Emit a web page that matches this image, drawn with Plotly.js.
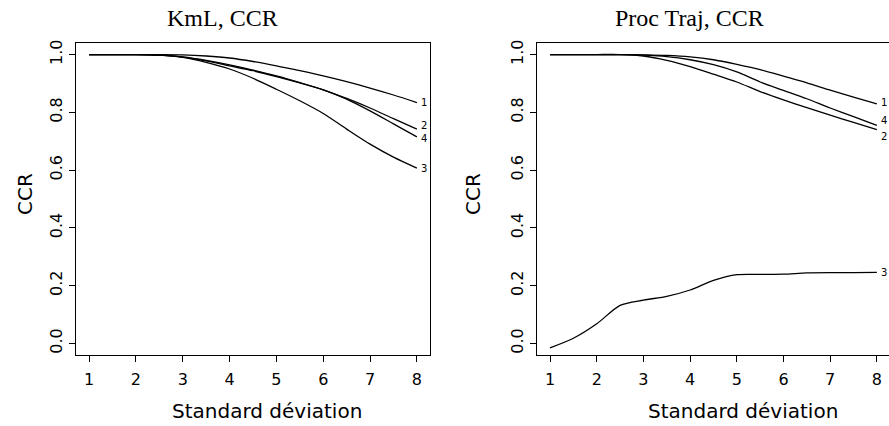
<!DOCTYPE html>
<html>
<head>
<meta charset="utf-8">
<script src="https://cdn.plot.ly/plotly-3.0.1.min.js"></script>
<style>
html,body{margin:0;padding:0;background:#fff;}
#chart{width:889px;height:426px;}
</style>
</head>
<body>
<div id="chart"></div>
<script>
// Standard deviation values (x axis)
const sd = [1, 1.5, 2, 2.5, 3, 3.5, 4, 4.5, 5, 5.5, 6, 6.5, 7, 7.5, 8];
const xTicks = [1, 2, 3, 4, 5, 6, 7, 8];
const yTicks = [0, 0.2, 0.4, 0.6, 0.8, 1.0];
const yTickText = ["0.0", "0.2", "0.4", "0.6", "0.8", "1.0"];

// KmL, CCR
const kml1 = [1, 1, 1, 1, 0.999, 0.995, 0.988, 0.976, 0.961, 0.944, 0.926, 0.906, 0.884, 0.860, 0.834];
const kml2 = [1, 1, 1, 0.998, 0.991, 0.978, 0.961, 0.944, 0.924, 0.902, 0.878, 0.848, 0.815, 0.778, 0.742];
const kml4 = [1, 1, 1, 0.998, 0.992, 0.980, 0.964, 0.946, 0.926, 0.903, 0.878, 0.846, 0.805, 0.760, 0.715];
const kml3 = [1, 1, 1, 0.998, 0.990, 0.973, 0.950, 0.918, 0.880, 0.840, 0.796, 0.742, 0.690, 0.645, 0.607];

// Proc Traj, CCR
const pt1 = [1, 1, 1, 1, 0.999, 0.997, 0.992, 0.982, 0.966, 0.948, 0.925, 0.902, 0.877, 0.853, 0.829];
const pt4 = [1, 1, 1, 1, 0.998, 0.993, 0.982, 0.965, 0.940, 0.905, 0.876, 0.847, 0.815, 0.785, 0.755];
const pt2 = [1, 1, 1, 1, 0.995, 0.980, 0.958, 0.932, 0.905, 0.872, 0.843, 0.816, 0.790, 0.765, 0.740];
const pt3 = [-0.015, 0.018, 0.068, 0.132, 0.150, 0.163, 0.185, 0.218, 0.238, 0.239, 0.240, 0.244, 0.245, 0.245, 0.246];

const curveLabels = ["1", "2", "3", "4"];

const lineStyle = {color: "#000", width: 1.3, shape: "spline", smoothing: 0.8};
function tr(y, xa, ya, name) {
  return {x: sd, y: y, xaxis: xa, yaxis: ya, mode: "lines", name: name,
          line: lineStyle, hoverinfo: "skip", showlegend: false};
}

const data = [
  tr(kml1, "x", "y", "1"), tr(kml2, "x", "y", "2"), tr(kml3, "x", "y", "3"), tr(kml4, "x", "y", "4"),
  tr(pt1, "x2", "y2", "1"), tr(pt2, "x2", "y2", "2"), tr(pt3, "x2", "y2", "3"), tr(pt4, "x2", "y2", "4")
];

const sans = "DejaVu Sans";
const tickFont = {family: sans, size: 16, color: "#000"};

function xAxis(domain, range, anchor) {
  return {domain: domain, range: range, anchor: anchor, tickmode: "array", tickvals: xTicks,
          ticks: "outside", ticklen: 6, tickwidth: 1, tickcolor: "#000",
          showline: true, mirror: true, linecolor: "#000", linewidth: 1,
          showgrid: false, zeroline: false, tickfont: tickFont, ticklabelstandoff: 4};
}
function yAxis(anchor) {
  return {domain: [71/426, 383/426], range: [-0.04, 1.04], anchor: anchor, tickmode: "array",
          tickvals: yTicks, ticktext: yTickText, tickangle: -90,
          ticks: "outside", ticklen: 6, tickwidth: 1, tickcolor: "#000",
          showline: true, mirror: true, linecolor: "#000", linewidth: 1,
          showgrid: false, zeroline: false, tickfont: tickFont, ticklabelstandoff: 1};
}

const lab = (xr, yr, y, txt, ys) => ({x: 8, y: y, xref: xr, yref: yr, text: txt, showarrow: false,
  xanchor: "left", yanchor: "middle", xshift: 2, yshift: ys || 0,
  font: {family: sans, size: 10, color: "#000"}});

const annotations = [
  lab("x", "y", kml1[14], curveLabels[0], 0),
  lab("x", "y", kml2[14], curveLabels[1], 4),
  lab("x", "y", kml4[14], curveLabels[3], -2),
  lab("x", "y", kml3[14], curveLabels[2], 0),
  lab("x2", "y2", pt1[14], curveLabels[0], 1),
  lab("x2", "y2", pt4[14], curveLabels[3], 5),
  lab("x2", "y2", pt2[14], curveLabels[1], -7),
  lab("x2", "y2", pt3[14], curveLabels[2], 0),
  {text: "KmL, CCR", x: 222/889, y: 408/426, xref: "paper", yref: "paper", showarrow: false,
   xanchor: "center", yanchor: "middle", font: {family: "Liberation Serif", size: 24, color: "#000"}},
  {text: "Proc Traj, CCR", x: 689/889, y: 408/426, xref: "paper", yref: "paper", showarrow: false,
   xanchor: "center", yanchor: "middle", font: {family: "Liberation Serif", size: 24, color: "#000"}},
  {text: "Standard déviation", x: 267/889, y: 15/426, xref: "paper", yref: "paper", showarrow: false,
   xanchor: "center", yanchor: "middle", font: {family: sans, size: 20, color: "#000"}},
  {text: "Standard déviation", x: 743/889, y: 15/426, xref: "paper", yref: "paper", showarrow: false,
   xanchor: "center", yanchor: "middle", font: {family: sans, size: 20, color: "#000"}},
  {text: "CCR", x: 25/889, y: 232/426, xref: "paper", yref: "paper", showarrow: false, textangle: -90,
   xanchor: "center", yanchor: "middle", font: {family: sans, size: 20, color: "#000"}},
  {text: "CCR", x: 473/889, y: 232/426, xref: "paper", yref: "paper", showarrow: false, textangle: -90,
   xanchor: "center", yanchor: "middle", font: {family: sans, size: 20, color: "#000"}}
];

const layout = {
  width: 889, height: 426,
  margin: {l: 0, r: 0, t: 0, b: 0},
  paper_bgcolor: "#fff", plot_bgcolor: "#fff",
  showlegend: false,
  xaxis: xAxis([76/889, 430/889], [0.72, 8.28], "y"),
  yaxis: yAxis("x"),
  xaxis2: xAxis([537/889, 1], [0.72, 8.26], "y2"),
  yaxis2: yAxis("x2"),
  annotations: annotations
};

Plotly.newPlot("chart", data, layout, {staticPlot: true, displayModeBar: false});
</script>
</body>
</html>
